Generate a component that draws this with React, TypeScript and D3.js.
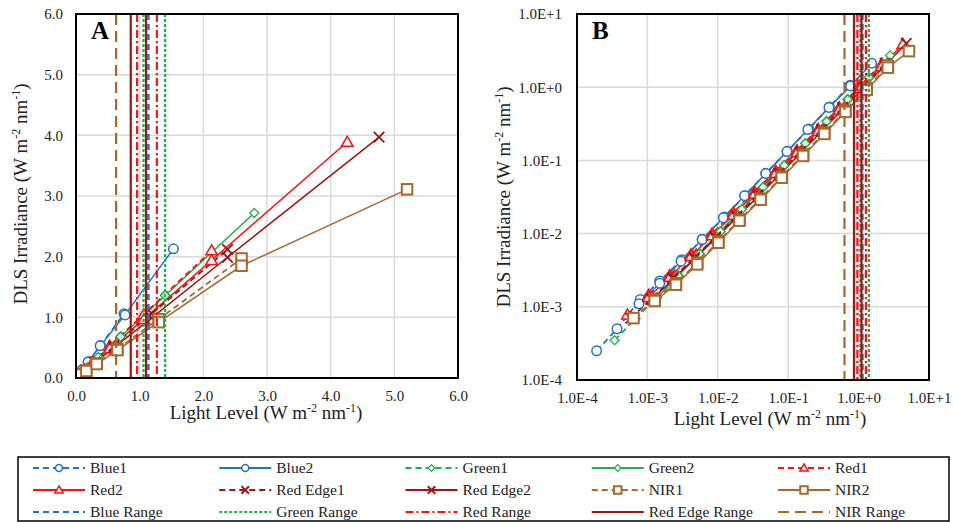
import React, { useEffect, useRef } from 'react';
import * as d3 from 'd3';

// light level (x) and DLS irradiance (y) for every series
const blue1X = [1.9e-4, 3.7e-4, 7.9e-4, 1.5e-3, 3.07e-3, 6.0e-3, 1.24e-2, 2.43e-2, 4.8e-2, 9.7e-2, 0.197, 0.384, 0.755];
const blue1Y = [2.5e-4, 5.0e-4, 1.26e-3, 2.26e-3, 4.4e-3, 8.4e-3, 1.69e-2, 3.3e-2, 6.65e-2, 0.133, 0.268, 0.537, 1.06];
const blue2X = [7.6e-4, 1.5e-3, 3.0e-3, 6.0e-3, 1.2e-2, 2.4e-2, 4.8e-2, 9.6e-2, 0.19, 0.38, 0.77, 1.53];
const blue2Y = [1.1e-3, 2.1e-3, 4.2e-3, 8.3e-3, 1.65e-2, 3.3e-2, 6.6e-2, 0.132, 0.265, 0.53, 1.04, 2.13];
const green1X = [3.42e-4, 6.8e-4, 1.37e-3, 2.73e-3, 5.5e-3, 1.09e-2, 2.19e-2, 4.4e-2, 8.75e-2, 0.175, 0.35, 0.7, 1.4];
const green1Y = [3.5e-4, 6.9e-4, 1.35e-3, 2.7e-3, 5.4e-3, 1.08e-2, 2.17e-2, 4.35e-2, 8.6e-2, 0.172, 0.345, 0.69, 1.37];
const green2X = [1.37e-3, 2.73e-3, 5.5e-3, 1.09e-2, 2.19e-2, 4.4e-2, 8.75e-2, 0.175, 0.35, 0.7, 1.4, 2.8];
const green2Y = [1.33e-3, 2.65e-3, 5.3e-3, 1.07e-2, 2.14e-2, 4.3e-2, 8.5e-2, 0.17, 0.34, 0.68, 1.36, 2.72];
const red1X = [5.2e-4, 1.04e-3, 2.08e-3, 4.16e-3, 8.3e-3, 1.66e-2, 3.33e-2, 6.66e-2, 0.133, 0.266, 0.53, 1.065, 2.13];
const red1Y = [7.8e-4, 1.45e-3, 2.7e-3, 5.2e-3, 1.0e-2, 1.95e-2, 3.75e-2, 7.2e-2, 0.138, 0.268, 0.53, 1.05, 2.1];
const red2X = [1.04e-3, 2.08e-3, 4.16e-3, 8.3e-3, 1.66e-2, 3.33e-2, 6.66e-2, 0.133, 0.266, 0.53, 1.065, 2.13, 4.26];
const red2Y = [1.35e-3, 2.55e-3, 4.9e-3, 9.4e-3, 1.8e-2, 3.5e-2, 6.7e-2, 0.128, 0.25, 0.49, 0.97, 1.94, 3.89];
const redEdge1X = [5.8e-4, 1.16e-3, 2.32e-3, 4.65e-3, 9.3e-3, 1.86e-2, 3.72e-2, 7.44e-2, 0.149, 0.2975, 0.595, 1.19, 2.38];
const redEdge1Y = [7.0e-4, 1.3e-3, 2.5e-3, 4.7e-3, 9.0e-3, 1.75e-2, 3.4e-2, 6.7e-2, 0.133, 0.265, 0.53, 1.06, 2.12];
const redEdge2X = [1.16e-3, 2.32e-3, 4.65e-3, 9.3e-3, 1.86e-2, 3.72e-2, 7.44e-2, 0.149, 0.2975, 0.595, 1.19, 2.38, 4.76];
const redEdge2Y = [1.25e-3, 2.4e-3, 4.5e-3, 8.6e-3, 1.66e-2, 3.2e-2, 6.3e-2, 0.125, 0.25, 0.5, 0.99, 1.99, 3.97];
const nir1X = [6.35e-4, 1.27e-3, 2.54e-3, 5.1e-3, 1.02e-2, 2.03e-2, 4.06e-2, 8.1e-2, 0.1625, 0.325, 0.65, 1.3, 2.6];
const nir1Y = [7.0e-4, 1.26e-3, 2.1e-3, 4.0e-3, 7.8e-3, 1.55e-2, 3.0e-2, 6.0e-2, 0.12, 0.24, 0.48, 0.97, 1.97];
const nir2X = [1.27e-3, 2.54e-3, 5.1e-3, 1.02e-2, 2.03e-2, 4.06e-2, 8.1e-2, 0.1625, 0.325, 0.65, 1.3, 2.6, 5.2];
const nir2Y = [1.2e-3, 2.0e-3, 3.8e-3, 7.5e-3, 1.5e-2, 2.9e-2, 5.8e-2, 0.115, 0.23, 0.46, 0.92, 1.85, 3.11];

// band range limits (light level)
const blueRange = [1.11, 1.14];
const greenRange = [1.06, 1.4];
const redRange = [0.96, 1.27];
const redEdgeRange = [0.86, 1.1];
const nirRange = [0.63];

const linTicks = [0, 1, 2, 3, 4, 5, 6];
const logTicks = [1e-4, 1e-3, 1e-2, 1e-1, 1, 10];

const BLUE = '#1F73C8';
const GREEN = '#1DB04C';
const RED = '#FF1010';
const REDEDGE = '#A01414';
const NIR = '#A5692E';

const series = [
  { name: 'Blue1', x: blue1X, y: blue1Y, color: BLUE, dashed: true, marker: 'circle' },
  { name: 'Blue2', x: blue2X, y: blue2Y, color: BLUE, dashed: false, marker: 'circle' },
  { name: 'Green1', x: green1X, y: green1Y, color: GREEN, dashed: true, marker: 'diamond' },
  { name: 'Green2', x: green2X, y: green2Y, color: GREEN, dashed: false, marker: 'diamond' },
  { name: 'Red1', x: red1X, y: red1Y, color: RED, dashed: true, marker: 'triangle' },
  { name: 'Red2', x: red2X, y: red2Y, color: RED, dashed: false, marker: 'triangle' },
  { name: 'Red Edge1', x: redEdge1X, y: redEdge1Y, color: REDEDGE, dashed: true, marker: 'cross' },
  { name: 'Red Edge2', x: redEdge2X, y: redEdge2Y, color: REDEDGE, dashed: false, marker: 'cross' },
  { name: 'NIR1', x: nir1X, y: nir1Y, color: NIR, dashed: true, marker: 'square' },
  { name: 'NIR2', x: nir2X, y: nir2Y, color: NIR, dashed: false, marker: 'square' },
];

const ranges = [
  { name: 'Blue Range', values: blueRange, color: BLUE, dash: '6,4' },
  { name: 'Green Range', values: greenRange, color: GREEN, dash: '3,2' },
  { name: 'Red Range', values: redRange, color: RED, dash: '8,3,2,3' },
  { name: 'Red Edge Range', values: redEdgeRange, color: REDEDGE, dash: null },
  { name: 'NIR Range', values: nirRange, color: NIR, dash: '11,6' },
];

const FONT = "'Liberation Serif', 'Times New Roman', 'DejaVu Serif', serif";

const drawMarker = (g, shape, cx, cy, color, s) => {
  if (shape === 'circle') {
    g.append('circle').attr('cx', cx).attr('cy', cy).attr('r', s * 0.5)
      .attr('fill', 'white').attr('stroke', color).attr('stroke-width', 1.5);
  } else if (shape === 'square') {
    g.append('rect').attr('x', cx - s / 2).attr('y', cy - s / 2).attr('width', s).attr('height', s)
      .attr('fill', 'white').attr('stroke', color).attr('stroke-width', 2);
  } else if (shape === 'triangle') {
    const h = s * 0.9;
    g.append('path')
      .attr('d', `M${cx},${cy - h * 0.6}L${cx + s * 0.55},${cy + h * 0.45}L${cx - s * 0.55},${cy + h * 0.45}Z`)
      .attr('fill', 'white').attr('stroke', color).attr('stroke-width', 1.5);
  } else if (shape === 'diamond') {
    const r = s * 0.45;
    g.append('path')
      .attr('d', `M${cx},${cy - r}L${cx + r},${cy}L${cx},${cy + r}L${cx - r},${cy}Z`)
      .attr('fill', 'white').attr('stroke', color).attr('stroke-width', 1.3);
  } else if (shape === 'cross') {
    const r = s * 0.5;
    g.append('path')
      .attr('d', `M${cx - r},${cy - r}L${cx + r},${cy + r}M${cx - r},${cy + r}L${cx + r},${cy - r}`)
      .attr('fill', 'none').attr('stroke', color).attr('stroke-width', 1.8);
  }
};

const unitTitle = (sel, label) => {
  sel.append('tspan').text(`${label} (W m`);
  sel.append('tspan').attr('font-size', '12px').attr('dy', -7).text('-2');
  sel.append('tspan').attr('dy', 7).text(' nm');
  sel.append('tspan').attr('font-size', '12px').attr('dy', -7).text('-1');
  sel.append('tspan').attr('dy', 7).text(')');
};

const logFmt = (d) => {
  const e = Math.round(Math.log10(d));
  return `1.0E${e >= 0 ? '+' : ''}${e}`;
};

const App = () => {
  const svgRef = useRef(null);

  useEffect(() => {
    const svg = d3.select(svgRef.current);
    svg.selectAll('*').remove();

    const panels = [
      {
        id: 'A',
        x: d3.scaleLinear().domain([0, 6]).range([76, 458]),
        y: d3.scaleLinear().domain([0, 6]).range([378, 14]),
        ticks: linTicks,
        fmt: d3.format('.1f'),
        xTitle: [266, 419],
        yTitle: [27, 194],
      },
      {
        id: 'B',
        x: d3.scaleLog().domain([1e-4, 10]).range([577, 929]),
        y: d3.scaleLog().domain([1e-4, 10]).range([380, 14]),
        ticks: logTicks,
        fmt: logFmt,
        xTitle: [770, 425],
        yTitle: [510, 197],
      },
    ];

    panels.forEach((p) => {
      const [x0, x1] = p.x.range();
      const [y1, y0] = p.y.range();
      const g = svg.append('g');

      const clipId = `clip-${p.id}`;
      svg.append('clipPath').attr('id', clipId)
        .append('rect').attr('x', x0).attr('y', y0).attr('width', x1 - x0).attr('height', y1 - y0);

      // grid
      g.append('g').selectAll('line').data(p.ticks.slice(1, -1)).enter().append('line')
        .attr('x1', (d) => p.x(d)).attr('x2', (d) => p.x(d))
        .attr('y1', y0).attr('y2', y1)
        .attr('stroke', '#D9D9D9').attr('stroke-width', 1.5);
      g.append('g').selectAll('line').data(p.ticks.slice(1, -1)).enter().append('line')
        .attr('y1', (d) => p.y(d)).attr('y2', (d) => p.y(d))
        .attr('x1', x0).attr('x2', x1)
        .attr('stroke', '#D9D9D9').attr('stroke-width', 1.5);

      const plot = g.append('g').attr('clip-path', `url(#${clipId})`);

      // series
      series.forEach((s) => {
        const pts = s.x.map((v, i) => [v, s.y[i]]);
        const line = d3.line().x((d) => p.x(d[0])).y((d) => p.y(d[1]));
        plot.append('path').datum(pts)
          .attr('fill', 'none')
          .attr('stroke', s.color)
          .attr('stroke-width', s.dashed ? 1.8 : 1.5)
          .attr('stroke-dasharray', s.dashed ? '6,4' : null)
          .attr('d', line);
      });
      series.forEach((s) => {
        const mg = plot.append('g');
        const size = s.marker === 'diamond' ? 10 : s.marker === 'circle' ? 9.5 : 10.5;
        s.x.forEach((v, i) => drawMarker(mg, s.marker, p.x(v), p.y(s.y[i]), s.color, size));
      });

      // range lines
      ranges.forEach((r) => {
        plot.append('g').selectAll('line').data(r.values).enter().append('line')
          .attr('x1', (d) => p.x(d)).attr('x2', (d) => p.x(d))
          .attr('y1', y0).attr('y2', y1)
          .attr('stroke', r.color).attr('stroke-width', 2.2)
          .attr('stroke-dasharray', r.dash);
      });

      // frame
      g.append('rect').attr('x', x0).attr('y', y0).attr('width', x1 - x0).attr('height', y1 - y0)
        .attr('fill', 'none').attr('stroke', 'black').attr('stroke-width', 2);

      // axes
      const xAxis = g.append('g').attr('transform', `translate(0,${y1})`)
        .call(d3.axisBottom(p.x).tickValues(p.ticks).tickFormat(p.fmt).tickSize(0).tickPadding(12));
      const yAxis = g.append('g').attr('transform', `translate(${x0},0)`)
        .call(d3.axisLeft(p.y).tickValues(p.ticks).tickFormat(p.fmt).tickSize(0).tickPadding(p.id === 'A' ? 13 : 15));
      [xAxis, yAxis].forEach((a) => {
        a.select('.domain').remove();
        a.attr('font-family', null).attr('font-size', null);
        a.selectAll('text').style('font-family', FONT).style('font-size', '15px').attr('fill', '#222');
      });

      // panel letter
      g.append('text').attr('x', x0 + 15).attr('y', y0 + 25)
        .style('font-family', FONT).style('font-size', '25px').attr('font-weight', 'bold').text(p.id);

      // titles
      const xt = g.append('text').attr('x', p.xTitle[0]).attr('y', p.xTitle[1])
        .attr('text-anchor', 'middle').style('font-family', FONT).attr('font-size', '19px').attr('fill', '#222');
      unitTitle(xt, 'Light Level');
      const yt = g.append('text')
        .attr('transform', `translate(${p.yTitle[0]},${p.yTitle[1]}) rotate(-90)`)
        .attr('text-anchor', 'middle').style('font-family', FONT).attr('font-size', '19px').attr('fill', '#222');
      unitTitle(yt, 'DLS Irradiance');
    });

    // legend
    const lg = svg.append('g');
    lg.append('rect').attr('x', 18).attr('y', 457).attr('width', 931).attr('height', 64)
      .attr('fill', 'white').attr('stroke', 'black').attr('stroke-width', 1.5);
    const colX = d3.scalePoint().domain(d3.range(5)).range([33, 778]);
    const rowY = d3.scalePoint().domain(d3.range(3)).range([468, 512]);
    const items = [
      ...series.map((s) => ({ ...s, dash: s.dashed ? '6,4' : null })),
      ...ranges.map((r) => ({ ...r, marker: null })),
    ];
    items.forEach((it, i) => {
      const cx = colX(i % 5);
      const cy = rowY(Math.floor(i / 5));
      lg.append('line').attr('x1', cx).attr('x2', cx + 52).attr('y1', cy).attr('y2', cy)
        .attr('stroke', it.color).attr('stroke-width', 2)
        .attr('stroke-dasharray', it.dash);
      if (it.marker) drawMarker(lg, it.marker, cx + 26, cy, it.color, it.marker === 'circle' ? 7 : 7.5);
      lg.append('text').attr('x', cx + 57).attr('y', cy).attr('dy', '0.35em')
        .style('font-family', FONT).style('font-size', '15.5px').attr('fill', '#222').text(it.name);
    });
  }, []);

  return (
    <div style={{ position: 'absolute', left: 0, top: 0, width: 953, height: 522, background: 'white' }}>
      <svg ref={svgRef} width={953} height={522} style={{ display: 'block' }} />
    </div>
  );
};

export default App;
